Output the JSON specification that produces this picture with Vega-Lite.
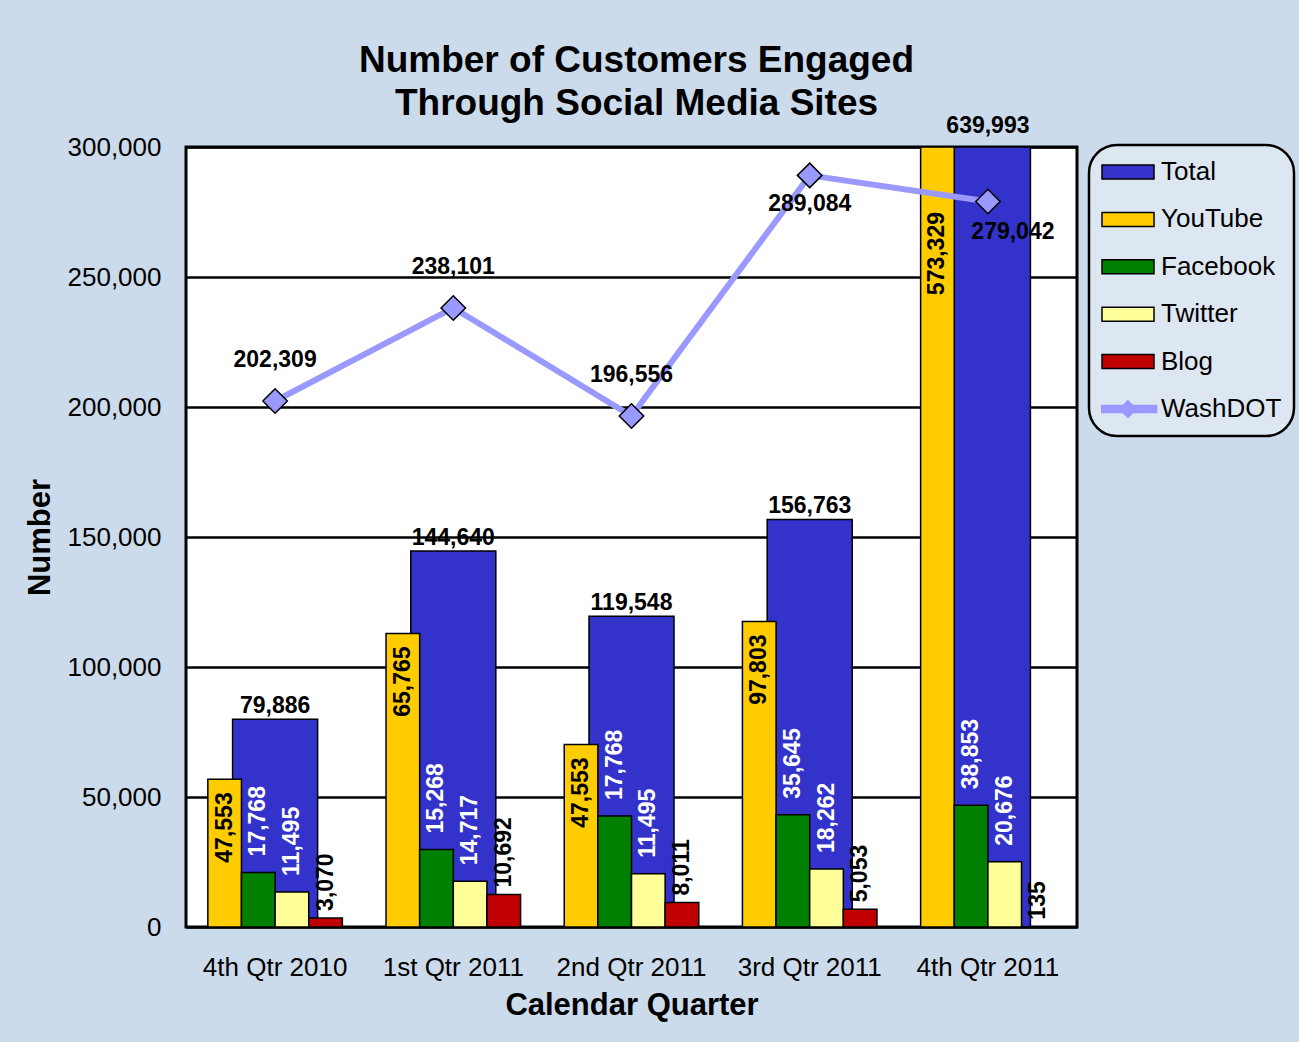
{
  "$schema": "https://vega.github.io/schema/vega-lite/v6.json",
  "width": 891,
  "height": 780,
  "autosize": "none",
  "padding": {"left": 186, "top": 147, "right": 222, "bottom": 115},
  "background": "#cbdbeb",
  "title": {
    "text": ["Number of Customers Engaged", "Through Social Media Sites"],
    "fontSize": 37,
    "fontWeight": "bold",
    "lineHeight": 43,
    "color": "black",
    "anchor": "middle",
    "dx": 5,
    "offset": -8
  },
  "data": {
    "values": [
      {"quarter": "4th Qtr 2010", "series": "Total", "value": 79886, "label": "79,886"},
      {"quarter": "1st Qtr 2011", "series": "Total", "value": 144640, "label": "144,640"},
      {"quarter": "2nd Qtr 2011", "series": "Total", "value": 119548, "label": "119,548"},
      {"quarter": "3rd Qtr 2011", "series": "Total", "value": 156763, "label": "156,763"},
      {"quarter": "4th Qtr 2011", "series": "Total", "value": 639993, "label": "639,993"},
      {"quarter": "4th Qtr 2010", "series": "YouTube", "value": 56800, "label": "47,553"},
      {"quarter": "1st Qtr 2011", "series": "YouTube", "value": 112900, "label": "65,765"},
      {"quarter": "2nd Qtr 2011", "series": "YouTube", "value": 70200, "label": "47,553"},
      {"quarter": "3rd Qtr 2011", "series": "YouTube", "value": 117500, "label": "97,803"},
      {"quarter": "4th Qtr 2011", "series": "YouTube", "value": 573329, "label": "573,329"},
      {"quarter": "4th Qtr 2010", "series": "Facebook", "value": 21000, "label": "17,768"},
      {"quarter": "1st Qtr 2011", "series": "Facebook", "value": 29800, "label": "15,268"},
      {"quarter": "2nd Qtr 2011", "series": "Facebook", "value": 42700, "label": "17,768"},
      {"quarter": "3rd Qtr 2011", "series": "Facebook", "value": 43200, "label": "35,645"},
      {"quarter": "4th Qtr 2011", "series": "Facebook", "value": 46800, "label": "38,853"},
      {"quarter": "4th Qtr 2010", "series": "Twitter", "value": 13500, "label": "11,495"},
      {"quarter": "1st Qtr 2011", "series": "Twitter", "value": 17600, "label": "14,717"},
      {"quarter": "2nd Qtr 2011", "series": "Twitter", "value": 20500, "label": "11,495"},
      {"quarter": "3rd Qtr 2011", "series": "Twitter", "value": 22300, "label": "18,262"},
      {"quarter": "4th Qtr 2011", "series": "Twitter", "value": 25100, "label": "20,676"},
      {"quarter": "4th Qtr 2010", "series": "Blog", "value": 3500, "label": "3,070"},
      {"quarter": "1st Qtr 2011", "series": "Blog", "value": 12500, "label": "10,692"},
      {"quarter": "2nd Qtr 2011", "series": "Blog", "value": 9400, "label": "8,011"},
      {"quarter": "3rd Qtr 2011", "series": "Blog", "value": 6800, "label": "5,053"},
      {"quarter": "4th Qtr 2011", "series": "Blog", "value": 135, "label": "135"},
      {"quarter": "4th Qtr 2010", "series": "WashDOT", "value": 202309, "label": "202,309"},
      {"quarter": "1st Qtr 2011", "series": "WashDOT", "value": 238101, "label": "238,101"},
      {"quarter": "2nd Qtr 2011", "series": "WashDOT", "value": 196556, "label": "196,556"},
      {"quarter": "3rd Qtr 2011", "series": "WashDOT", "value": 289084, "label": "289,084"},
      {"quarter": "4th Qtr 2011", "series": "WashDOT", "value": 279042, "label": "279,042"}
    ]
  },
  "encoding": {
    "x": {
      "field": "quarter",
      "type": "nominal",
      "sort": ["4th Qtr 2010", "1st Qtr 2011", "2nd Qtr 2011", "3rd Qtr 2011", "4th Qtr 2011"],
      "scale": {"paddingInner": 0.245, "paddingOuter": 0.1225},
      "axis": {
        "title": "Calendar Quarter",
        "labelAngle": 0,
        "labelFontSize": 26,
        "labelPadding": 27,
        "ticks": false,
        "domain": false,
        "titleFontSize": 31,
        "titleFontWeight": "bold",
        "titlePadding": 10
      }
    },
    "y": {
      "field": "value",
      "type": "quantitative",
      "scale": {"domain": [0, 300000], "clamp": true, "nice": false},
      "axis": {
        "title": "Number",
        "values": [0, 50000, 100000, 150000, 200000, 250000, 300000],
        "format": ",d",
        "labelFontSize": 26,
        "labelPadding": 25,
        "ticks": false,
        "domain": false,
        "grid": true,
        "gridColor": "black",
        "gridWidth": 2.5,
        "gridOpacity": 1,
        "titleFontSize": 31,
        "titleFontWeight": "bold",
        "titlePadding": 11
      }
    }
  },
  "layer": [
    {
      "transform": [{"filter": "datum.series === 'Total'"}],
      "mark": {"type": "bar", "width": {"band": 0.632}, "stroke": "black", "strokeWidth": 1.5},
      "encoding": {
        "color": {
          "field": "series",
          "type": "nominal",
          "scale": {
            "domain": ["Total", "YouTube", "Facebook", "Twitter", "Blog", "WashDOT"],
            "range": ["#3333cc", "#ffcc00", "#008000", "#ffff99", "#c00000", "#9999ff"]
          },
          "legend": {
            "title": null,
            "orient": "none",
            "legendX": 903,
            "legendY": -2,
            "symbolType": "M-1,-0.27H1V0.27H-1Z",
            "symbolStrokeColor": "black",
            "symbolStrokeWidth": 1.5,
            "symbolOpacity": 1,
            "encode": {
              "symbols": {
                "update": {
                  "shape": {"signal": "datum.value === 'WashDOT' ? 'M-1.1,-0.13H1.1V0.13H-1.1Z M0,-0.32L0.32,0L0,0.32L-0.32,0Z' : 'M-1,-0.27H1V0.27H-1Z'"},
                  "stroke": {"signal": "datum.value === 'WashDOT' ? '#9999ff' : 'black'"}
                }
              }
            }
          }
        }
      }
    },
    {
      "transform": [{"filter": {"field": "series", "oneOf": ["YouTube", "Facebook", "Twitter", "Blog"]}}],
      "mark": {"type": "bar", "stroke": "black", "strokeWidth": 1.5},
      "encoding": {
        "xOffset": {
          "field": "series",
          "type": "nominal",
          "sort": ["YouTube", "Facebook", "Twitter", "Blog"],
          "scale": {"domain": ["YouTube", "Facebook", "Twitter", "Blog"], "paddingInner": 0, "paddingOuter": 0}
        },
        "color": {
          "field": "series",
          "type": "nominal",
          "legend": {
            "title": null,
            "orient": "none",
            "legendX": 903,
            "legendY": -2,
            "symbolType": "M-1,-0.27H1V0.27H-1Z",
            "symbolStrokeColor": "black",
            "symbolStrokeWidth": 1.5,
            "symbolOpacity": 1,
            "encode": {
              "symbols": {
                "shape": {
                  "condition": {"test": "datum.value === 'WashDOT'", "value": "M-1.1,-0.13H1.1V0.13H-1.1Z M0,-0.32L0.32,0L0,0.32L-0.32,0Z"},
                  "value": "M-1,-0.27H1V0.27H-1Z"
                },
                "stroke": {
                  "condition": {"test": "datum.value === 'WashDOT'", "value": "#9999ff"},
                  "value": "black"
                }
              }
            }
          }
        }
      }
    },
    {
      "transform": [{"filter": "datum.series === 'WashDOT'"}],
      "mark": {"type": "line", "color": "#9999ff", "strokeWidth": 6},
      "encoding": {}
    },
    {
      "transform": [{"filter": "datum.series === 'WashDOT'"}],
      "mark": {"type": "point", "shape": "diamond", "filled": true, "fill": "#9999ff", "stroke": "black", "strokeWidth": 1.5, "size": 600, "opacity": 1},
      "encoding": {}
    },
    {
      "transform": [{"filter": "datum.series === 'Total' && datum.quarter !== '4th Qtr 2011'"}],
      "mark": {"type": "text", "fontSize": 23, "fontWeight": "bold", "color": "black", "baseline": "alphabetic", "dy": -6},
      "encoding": {"text": {"field": "label"}}
    },
    {
      "transform": [{"filter": "datum.series === 'Total' && datum.quarter === '4th Qtr 2011'"}],
      "mark": {"type": "text", "fontSize": 23, "fontWeight": "bold", "color": "black", "baseline": "alphabetic", "dy": -14},
      "encoding": {"text": {"field": "label"}}
    },
    {
      "transform": [{"filter": "datum.series === 'YouTube' && datum.quarter !== '4th Qtr 2011'"}],
      "mark": {"type": "text", "fontSize": 23, "fontWeight": "bold", "color": "black", "angle": 270, "align": "right", "baseline": "middle", "dx": -13},
      "encoding": {"text": {"field": "label"}, "xOffset": {"field": "series", "type": "nominal"}}
    },
    {
      "transform": [{"filter": "datum.series === 'YouTube' && datum.quarter === '4th Qtr 2011'"}],
      "mark": {"type": "text", "fontSize": 23, "fontWeight": "bold", "color": "black", "angle": 270, "align": "right", "baseline": "middle", "dx": -65},
      "encoding": {"text": {"field": "label"}, "xOffset": {"field": "series", "type": "nominal"}}
    },
    {
      "transform": [{"filter": {"field": "series", "oneOf": ["Facebook", "Twitter"]}}],
      "mark": {"type": "text", "fontSize": 23, "fontWeight": "bold", "color": "white", "angle": 270, "align": "left", "baseline": "middle", "dx": 16},
      "encoding": {"text": {"field": "label"}, "xOffset": {"field": "series", "type": "nominal"}}
    },
    {
      "transform": [{"filter": "datum.series === 'Blog'"}],
      "mark": {"type": "text", "fontSize": 23, "fontWeight": "bold", "color": "black", "angle": 270, "align": "left", "baseline": "middle", "dx": 7},
      "encoding": {"text": {"field": "label"}, "xOffset": {"field": "series", "type": "nominal"}}
    },
    {
      "transform": [{"filter": {"field": "series", "equal": "WashDOT"}}, {"filter": {"field": "quarter", "oneOf": ["4th Qtr 2010", "1st Qtr 2011", "2nd Qtr 2011"]}}],
      "mark": {"type": "text", "fontSize": 23, "fontWeight": "bold", "color": "black", "baseline": "alphabetic", "dy": -34},
      "encoding": {"text": {"field": "label"}}
    },
    {
      "transform": [{"filter": {"field": "series", "equal": "WashDOT"}}, {"filter": {"field": "quarter", "equal": "3rd Qtr 2011"}}],
      "mark": {"type": "text", "fontSize": 23, "fontWeight": "bold", "color": "black", "baseline": "alphabetic", "dy": 36},
      "encoding": {"text": {"field": "label"}}
    },
    {
      "transform": [{"filter": {"field": "series", "equal": "WashDOT"}}, {"filter": {"field": "quarter", "equal": "4th Qtr 2011"}}],
      "mark": {"type": "text", "fontSize": 23, "fontWeight": "bold", "color": "black", "baseline": "alphabetic", "dy": 38, "dx": 25},
      "encoding": {"text": {"field": "label"}}
    }
  ],
  "config": {
    "font": "Liberation Sans",
    "view": {"stroke": "black", "strokeWidth": 3, "fill": "white"},
    "axis": {"labelColor": "black", "titleColor": "black", "labelFont": "Liberation Sans", "titleFont": "Liberation Sans"},
    "legend": {
      "labelFontSize": 26,
      "labelFont": "Liberation Sans",
      "labelColor": "black",
      "symbolSize": 2704,
      "symbolType": "M-1,-0.27H1V0.27H-1Z",
      "clipHeight": 30,
      "rowPadding": 17.4,
      "labelOffset": 6,
      "padding": 12,
      "fillColor": "#dde7f2",
      "strokeColor": "black",
      "strokeWidth": 2.5,
      "cornerRadius": 28
    }
  }
}
